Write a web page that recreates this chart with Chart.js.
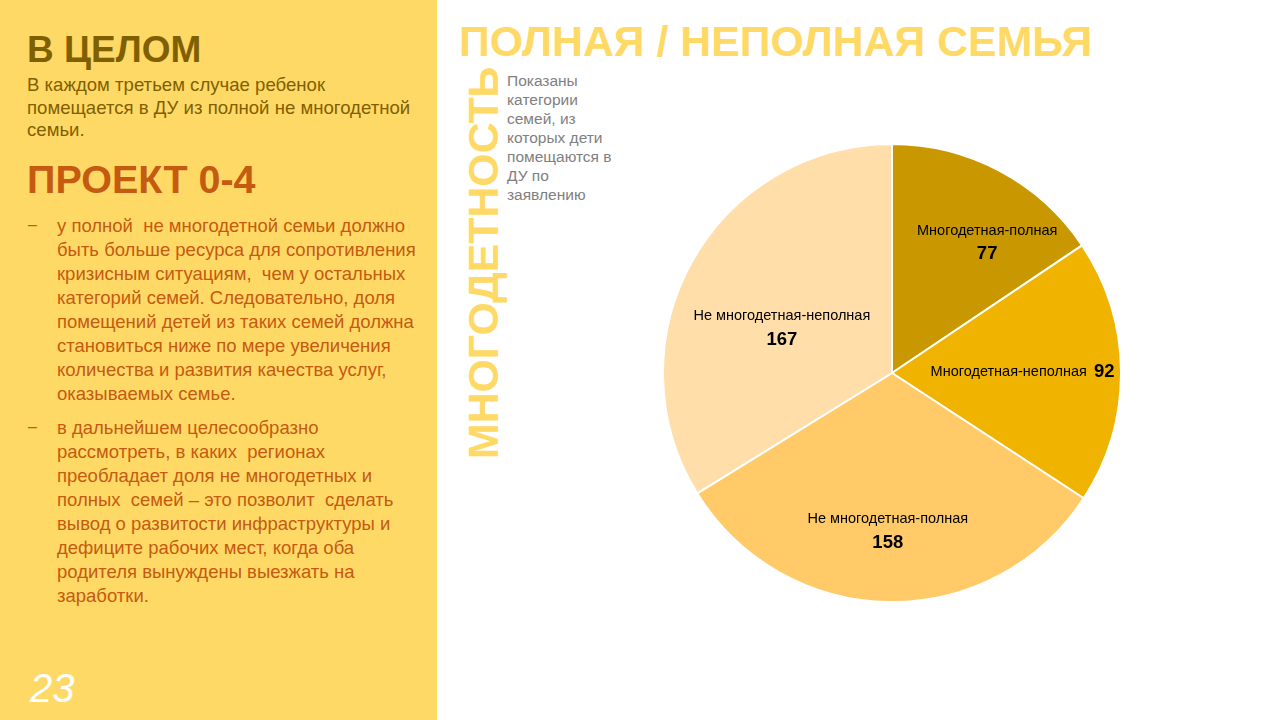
<!DOCTYPE html>
<html>
<head>
<meta charset="utf-8">
<script src="https://cdn.jsdelivr.net/npm/chart.js@4.4.1/dist/chart.umd.min.js"></script>
<style>
  html, body { margin:0; padding:0; }
  body { width:1280px; height:720px; position:relative; overflow:hidden; background:#fff; font-family:"Liberation Sans", Arial, sans-serif; }
  .panel { position:absolute; left:0; top:0; width:437px; height:720px; background:#FFD966; }
  .abs { position:absolute; white-space:nowrap; }
  .h1 { left:27px; top:29px; font-size:37px; font-weight:bold; color:#7F6000; line-height:42px; }
  .sub { left:27px; top:74px; font-size:18.6px; color:#7F6000; line-height:22.5px; }
  .h2 { left:27px; top:156px; font-size:39.5px; font-weight:bold; color:#C55A11; line-height:46px; }
  .bul { left:27px; font-size:18.5px; color:#C55A11; line-height:24px; }
  .bul .d { position:absolute; left:0; top:0; }
  .bul .t { position:absolute; left:30px; top:0; }
  .num { left:30px; top:666px; font-size:40px; color:#fff; line-height:44px; font-style:italic; }
  .title { left:459px; top:16px; font-size:42.8px; font-weight:bold; color:#FFD966; line-height:50px; }
  .vert { left:461px; top:459px; font-size:42.8px; font-weight:bold; color:#FFD966; line-height:44px; transform-origin:0 0; transform:rotate(-90deg); }
  .note { left:507px; top:71px; font-size:15.5px; color:#808080; line-height:19px; }
  #wrap { position:absolute; left:662px; top:143px; width:460px; height:460px; }
</style>
</head>
<body>
<div class="panel"></div>
<div class="abs h1">В ЦЕЛОМ</div>
<div class="abs sub">В каждом третьем случае ребенок<br>помещается в ДУ из полной не многодетной<br>семьи.</div>
<div class="abs h2">ПРОЕКТ 0-4</div>
<div class="abs bul" style="top:214px;"><span class="d">−</span><span class="t">у полной&nbsp; не многодетной семьи должно<br>быть больше ресурса для сопротивления<br>кризисным ситуациям,&nbsp; чем у остальных<br>категорий семей. Следовательно, доля<br>помещений детей из таких семей должна<br>становиться ниже по мере увеличения<br>количества и развития качества услуг,<br>оказываемых семье.</span></div>
<div class="abs bul" style="top:416px;"><span class="d">−</span><span class="t">в дальнейшем целесообразно<br>рассмотреть, в каких&nbsp; регионах<br>преобладает доля не многодетных и<br>полных&nbsp; семей – это позволит&nbsp; сделать<br>вывод о развитости инфраструктуры и<br>дефиците рабочих мест, когда оба<br>родителя вынуждены выезжать на<br>заработки.</span></div>
<div class="abs num">23</div>
<div class="abs title">ПОЛНАЯ / НЕПОЛНАЯ СЕМЬЯ</div>
<div class="abs vert">МНОГОДЕТНОСТЬ</div>
<div class="abs note">Показаны<br>категории<br>семей, из<br>которых дети<br>помещаются в<br>ДУ по<br>заявлению</div>
<div id="wrap"><canvas id="c"></canvas></div>
<script>
const categories = ["Многодетная-полная", "Многодетная-неполная", "Не многодетная-полная", "Не многодетная-неполная"];
const values = [77, 92, 158, 167];
const sliceColors = ["#C99800", "#EFB300", "#FFCA67", "#FFDEAA"];

// label placement: angle shift (deg) from slice middle, radius fraction, inline
const labelLayout = [
  { shift: 8, frac: 0.706, inline: false },
  { shift: 0, frac: 0.57, inline: true },
  { shift: 0.8, frac: 0.69, inline: false },
  { shift: -6.8, frac: 0.52, inline: false }
];

const labelPlugin = {
  id: 'sliceLabels',
  afterDatasetsDraw(chart) {
    const ctx = chart.ctx;
    const meta = chart.getDatasetMeta(0);
    meta.data.forEach((arc, i) => {
      const p = arc.getProps(['x','y','startAngle','endAngle','outerRadius'], true);
      const lay = labelLayout[i];
      const a = (p.startAngle + p.endAngle) / 2 + lay.shift * Math.PI / 180;
      const r = p.outerRadius * lay.frac;
      const x = p.x + r * Math.cos(a);
      const y = p.y + r * Math.sin(a);
      ctx.save();
      ctx.fillStyle = '#000';
      ctx.textBaseline = 'middle';
      const nameFont = '14.5px "Liberation Sans", Arial, sans-serif';
      const valFont = 'bold 18.5px "Liberation Sans", Arial, sans-serif';
      const name = categories[i];
      const val = String(values[i]);
      if (lay.inline) {
        ctx.font = nameFont;
        const w1 = ctx.measureText(name).width;
        ctx.font = valFont;
        const w2 = ctx.measureText(val).width;
        const gap = 7;
        const total = w1 + gap + w2;
        ctx.textAlign = 'left';
        ctx.font = nameFont;
        ctx.fillText(name, x - total / 2, y);
        ctx.font = valFont;
        ctx.fillText(val, x - total / 2 + w1 + gap, y);
      } else {
        ctx.textAlign = 'center';
        ctx.font = nameFont;
        ctx.fillText(name, x, y - 11.5);
        ctx.font = valFont;
        ctx.fillText(val, x, y + 12);
      }
      ctx.restore();
    });
  }
};

new Chart(document.getElementById('c'), {
  type: 'pie',
  data: {
    labels: categories,
    datasets: [{
      data: values,
      backgroundColor: sliceColors,
      borderColor: '#ffffff',
      borderWidth: 2
    }]
  },
  options: {
    responsive: true,
    maintainAspectRatio: false,
    animation: false,
    layout: { padding: 0 },
    plugins: { legend: { display: false }, tooltip: { enabled: false } }
  },
  plugins: [labelPlugin]
});
</script>
</body>
</html>
